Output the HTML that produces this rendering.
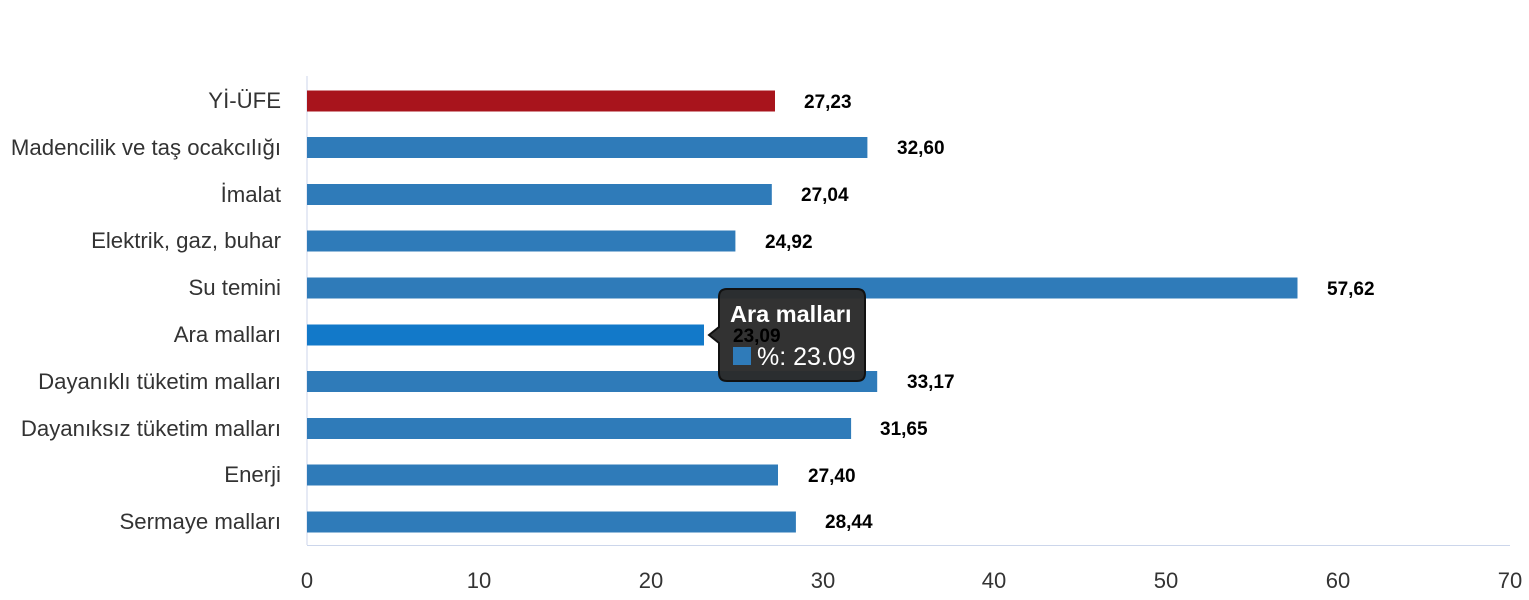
<!DOCTYPE html>
<html><head><meta charset="utf-8"><style>
body{margin:0;background:#fff;}
svg{display:block;}
.c{font-family:"Liberation Sans","DejaVu Sans",sans-serif;font-size:22.2px;fill:#333;text-anchor:end;}
.v{font-family:"Liberation Sans",sans-serif;font-size:19px;font-weight:bold;fill:#000;}
.t{font-family:"Liberation Sans",sans-serif;font-size:22px;fill:#333;text-anchor:middle;}
</style></head><body>
<svg width="1529" height="600" xmlns="http://www.w3.org/2000/svg">
<line x1="307" y1="76" x2="307" y2="545" stroke="#ccd6eb" stroke-width="1"/>
<line x1="307" y1="545.5" x2="1510" y2="545.5" stroke="#ccd6eb" stroke-width="1"/>
<g>
<rect x="307" y="90.5" width="468" height="21" fill="#a8141c"/>
<rect x="307" y="137" width="560.4" height="21" fill="#2f7bb9"/>
<rect x="307" y="184" width="464.8" height="21" fill="#2f7bb9"/>
<rect x="307" y="230.5" width="428.4" height="21" fill="#2f7bb9"/>
<rect x="307" y="277.5" width="990.5" height="21" fill="#2f7bb9"/>
<rect x="307" y="324.5" width="397" height="21" fill="#1279c9"/>
<rect x="307" y="371" width="570.2" height="21" fill="#2f7bb9"/>
<rect x="307" y="418" width="544.1" height="21" fill="#2f7bb9"/>
<rect x="307" y="464.5" width="471" height="21" fill="#2f7bb9"/>
<rect x="307" y="511.5" width="488.9" height="21" fill="#2f7bb9"/>
</g>
<g>
<text class="c" x="281" y="108">Yİ-ÜFE</text>
<text class="c" x="281" y="155">Madencilik ve taş ocakcılığı</text>
<text class="c" x="281" y="202">İmalat</text>
<text class="c" x="281" y="248">Elektrik, gaz, buhar</text>
<text class="c" x="281" y="295">Su temini</text>
<text class="c" x="281" y="342">Ara malları</text>
<text class="c" x="281" y="389">Dayanıklı tüketim malları</text>
<text class="c" x="281" y="436">Dayanıksız tüketim malları</text>
<text class="c" x="281" y="482">Enerji</text>
<text class="c" x="281" y="529">Sermaye malları</text>
</g>
<g>
<text class="v" x="804" y="108">27,23</text>
<text class="v" x="897" y="154">32,60</text>
<text class="v" x="801" y="201">27,04</text>
<text class="v" x="765" y="248">24,92</text>
<text class="v" x="1327" y="295">57,62</text>
<text class="v" x="733" y="342">23,09</text>
<text class="v" x="907" y="388">33,17</text>
<text class="v" x="880" y="435">31,65</text>
<text class="v" x="808" y="482">27,40</text>
<text class="v" x="825" y="528">28,44</text>
</g>
<g>
<text class="t" x="307" y="588">0</text>
<text class="t" x="479" y="588">10</text>
<text class="t" x="651" y="588">20</text>
<text class="t" x="823" y="588">30</text>
<text class="t" x="994" y="588">40</text>
<text class="t" x="1166" y="588">50</text>
<text class="t" x="1338" y="588">60</text>
<text class="t" x="1510" y="588">70</text>
</g>
<g>
<path d="M727,289 H857 Q865,289 865,297 V373 Q865,381 857,381 H727 Q719,381 719,373 V343 L709,335 L719,327 V297 Q719,289 727,289 Z" fill="#2b2b2b" fill-opacity="0.97" stroke="#111" stroke-width="2"/>
<text x="730" y="322" font-family="Liberation Sans,sans-serif" font-size="23.5" font-weight="bold" fill="#fff">Ara malları</text>
<text x="733" y="342" font-family="Liberation Sans,sans-serif" font-size="19" font-weight="bold" fill="#000">23,09</text>
<rect x="733" y="347" width="18" height="18" fill="#2f7bb9"/>
<text x="757" y="365" font-family="Liberation Sans,sans-serif" font-size="25" fill="#fff">%: 23.09</text>
</g>
</svg>
</body></html>
